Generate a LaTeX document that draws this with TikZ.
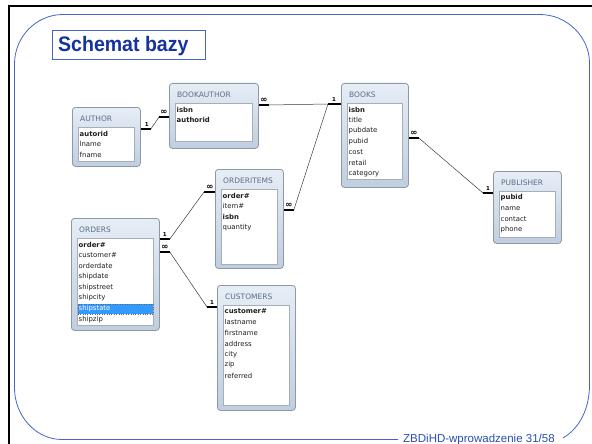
\documentclass[tikz,border=0pt]{standalone}
\usepackage{graphicx}
\usepackage{fontspec}
\setmainfont{DejaVu Sans}
\newfontfamily\helv{Liberation Sans}
\usetikzlibrary{calc}
\definecolor{frameblue}{HTML}{4466CC}
\definecolor{titleblue}{HTML}{1432A0}
\definecolor{footblue}{HTML}{2A4DB5}
\definecolor{tabtop}{HTML}{E6EDF6}
\definecolor{tabbot}{HTML}{BFCEE0}
\definecolor{tabedge}{HTML}{8E99A6}
\definecolor{tabtitlecol}{HTML}{5C6D85}
\definecolor{inedge}{HTML}{A7AEB6}
\definecolor{hlblue}{HTML}{3399FF}
\definecolor{fieldtxt}{HTML}{1E1E1E}
\definecolor{linkgray}{HTML}{3A3A3A}
\tikzset{
 tabbox/.style={draw=tabedge, line width=0.8pt, rounded corners=3pt, top color=tabtop, bottom color=tabbot, anchor=north west, inner sep=0},
 tabtitlestyle/.style={anchor=west, inner sep=0, font=\fontsize{7.5}{9}\selectfont, text=tabtitlecol},
 inbox/.style={draw=inedge, fill=white, line width=0.6pt, anchor=north west, inner sep=0},
 fieldstyle/.style={anchor=west, inner sep=0, font=\fontsize{6.9}{8}\selectfont, text=fieldtxt},
 stub/.style={line width=2pt, black},
 link/.style={linkgray, line width=0.5pt},
 cardone/.style={inner sep=0, font=\fontsize{5.5}{6}\selectfont\bfseries, anchor=south},
 cardmany/.style={inner sep=0, font=\fontsize{8.5}{9}\selectfont\bfseries, anchor=south},
}
\newcommand\dbtable[8]{%
 \node[tabbox, minimum width=#4pt, minimum height=#5pt] (#1) at (#2,#3) {};
 \node[tabtitlestyle] (#1-t) at ($(#1.north west)+(8,12)$) {#6};
 \node[inbox, minimum width={(#4-12)*1pt}, minimum height=#7pt] (#1-i) at ($(#1.north west)+(6,20)$) {};
 \foreach \f [count=\i] in {#8} \node[fieldstyle] (#1-f\i) at ($(#1-i.north west)+(1.5,{6.5+(\i-1)*10.7})$) {\f};
}
\begin{document}
\begin{tikzpicture}[x=1pt,y=-1pt]
\useasboundingbox (0,0) rectangle (592,444);
% black border
\draw[line width=2.5pt] (9,444) -- (9,6.2) -- (592,6.2);
% blue frame
\draw[frameblue, line width=0.8pt]
  (398,439.5) -- (62,439.5) .. controls (35,439.5) and (14.5,415) .. (14.5,388)
  -- (14.5,64) .. controls (14.5,37) and (36,14.5) .. (63,14.5)
  -- (540,14.5) .. controls (567,14.5) and (589.5,37) .. (589.5,63)
  -- (589.5,385) .. controls (589.5,408) and (580,428) .. (563,438);
% title
\node[draw=frameblue, line width=0.8pt, minimum width=153pt, minimum height=29pt, anchor=north west, inner sep=0] (titlebox) at (52,30) {};
\node[anchor=base west, inner sep=0, text=titleblue, font=\helv\bfseries\fontsize{21}{24}\selectfont] (titletext) at (58,51.5) {\scalebox{0.93}[1]{Schemat bazy}};
% footer
\node[anchor=base west, inner sep=0, text=footblue, font=\helv\fontsize{11.5}{14}\selectfont] (foot) at (403,442) {ZBDiHD-wprowadzenie 31/58};

% tables
\dbtable{author}{72}{107}{68}{59}{AUTHOR}{34}{\textbf{autorid},lname,fname}
\dbtable{bookauthor}{169}{83}{89}{65}{BOOKAUTHOR}{38}{\textbf{isbn},\textbf{authorid}}
\dbtable{books}{341}{83}{67}{104}{BOOKS}{76}{\textbf{isbn},title,pubdate,pubid,cost,retail,category}
\dbtable{orderitems}{215}{169}{68}{99}{ORDERITEMS}{75}{\textbf{order\#},item\#,\textbf{isbn},quantity}
\dbtable{orders}{71}{218}{88}{112}{ORDERS}{87}{\textbf{order\#},customer\#,orderdate,shipdate,shipstreet,shipcity,\phantom{shipstate},shipzip}
\dbtable{customers}{217}{285}{78}{125}{CUSTOMERS}{100}{\textbf{customer\#},lastname,firstname,address,city,zip,referred}
\dbtable{publisher}{493}{171}{68}{72}{PUBLISHER}{46}{\textbf{pubid},name,contact,phone}
% highlighted field
\node[fill=hlblue, draw=black!60, dotted, line width=0.4pt, minimum width=75pt, minimum height=10pt, inner sep=0, anchor=west] (hl) at ($(orders-i.west |- orders-f7)+(0.5,0)$) {};
\node[fieldstyle, text=white] (hltext) at (orders-f7.west) {shipstate};

% relationships
% AUTHOR - BOOKAUTHOR
\draw[stub] ($(author.north east)+(0,22)$) -- ++(10,0) coordinate (a1);
\node[cardone] (c1) at ($(author.north east)+(6,20)$) {1};
\draw[stub] ($(bookauthor.north west)+(0,34)$) -- ++(-10,0) coordinate (a2);
\node[cardmany] (c2) at ($(bookauthor.north west)+(-5,32)$) {∞};
\draw[link] (a1) -- (a2);
% BOOKAUTHOR - BOOKS
\draw[stub] ($(bookauthor.north east)+(0,22)$) -- ++(10,0) coordinate (b1);
\node[cardmany] (c3) at ($(bookauthor.north east)+(5,20)$) {∞};
\draw[stub] ($(books.north west)+(0,21)$) -- ++(-13,0) coordinate (b2);
\node[cardone] (c4) at ($(books.north west)+(-7,19)$) {1};
\draw[link] (b1) -- (b2);
% ORDERITEMS - BOOKS
\draw[stub] ($(orderitems.north east)+(0,41)$) -- ++(10,0) coordinate (d1);
\node[cardmany] (c5) at ($(orderitems.north east)+(5,39)$) {∞};
\draw[link] (d1) -- (b2);
% BOOKS - PUBLISHER
\draw[stub] ($(books.north east)+(0,55)$) -- ++(10,0) coordinate (e1);
\node[cardmany] (c6) at ($(books.north east)+(5,53)$) {∞};
\draw[stub] ($(publisher.north west)+(0,22)$) -- ++(-10,0) coordinate (e2);
\node[cardone] (c7) at ($(publisher.north west)+(-5,20)$) {1};
\draw[link] (e1) -- (e2);
% ORDERS - ORDERITEMS
\draw[stub] ($(orders.north east)+(0,21)$) -- ++(10,0) coordinate (f1);
\node[cardone] (c8) at ($(orders.north east)+(5,19)$) {1};
\draw[stub] ($(orderitems.north west)+(0,23)$) -- ++(-11,0) coordinate (f2);
\node[cardmany] (c9) at ($(orderitems.north west)+(-5,21)$) {∞};
\draw[link] (f1) -- (f2);
% ORDERS - CUSTOMERS
\draw[stub] ($(orders.north east)+(0,34)$) -- ++(10,0) coordinate (g1);
\node[cardmany] (c10) at ($(orders.north east)+(5,32)$) {∞};
\draw[stub] ($(customers.north west)+(0,22)$) -- ++(-10,0) coordinate (g2);
\node[cardone] (c11) at ($(customers.north west)+(-5,20)$) {1};
\draw[link] (g1) -- (g2);
\end{tikzpicture}
\end{document}
